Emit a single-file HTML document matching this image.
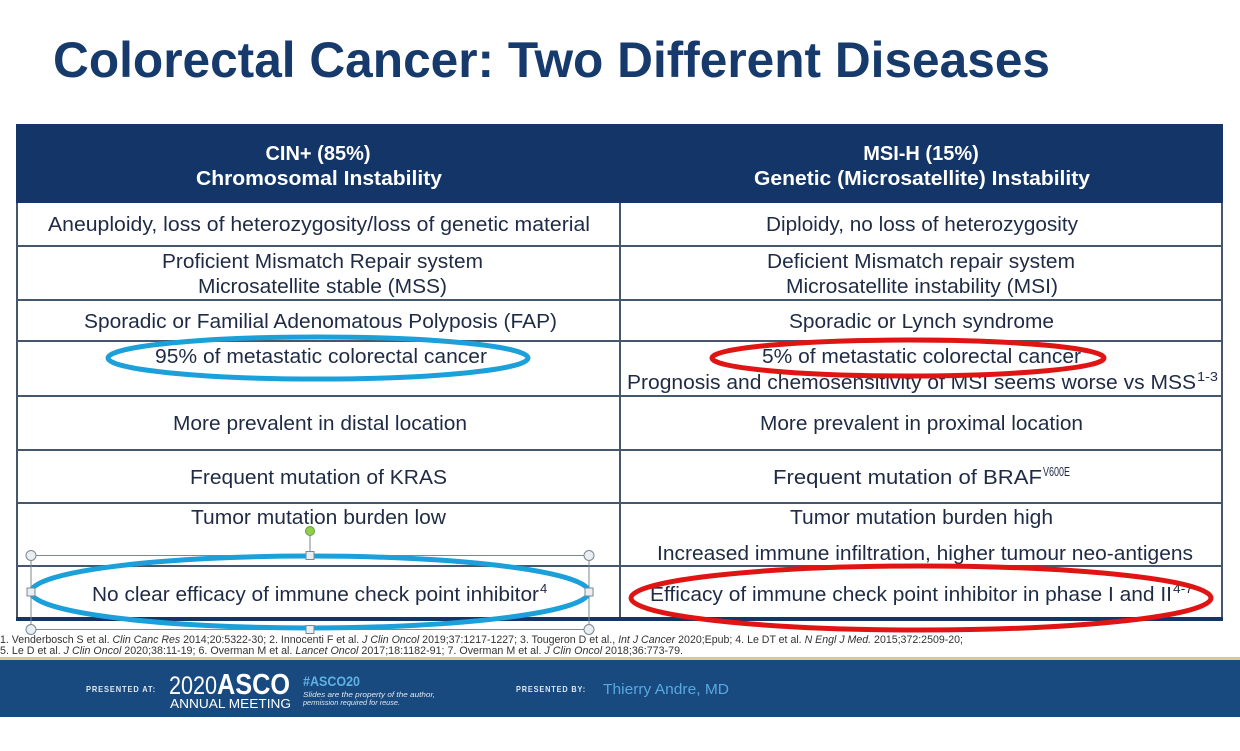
<!DOCTYPE html>
<html>
<head>
<meta charset="utf-8">
<style>
html,body{margin:0;padding:0;background:#fff;}
body{width:1240px;height:751px;overflow:hidden;}
svg{display:block;}
text{font-family:"Liberation Sans",Arial,sans-serif;}
</style>
</head>
<body>
<svg width="1240" height="751" viewBox="0 0 1240 751" xmlns="http://www.w3.org/2000/svg">
  <rect x="0" y="0" width="1240" height="751" fill="#ffffff"/>

  <!-- Title -->
  <text x="53" y="77" font-size="50" font-weight="bold" fill="#163a6b" textLength="997" lengthAdjust="spacingAndGlyphs">Colorectal Cancer: Two Different Diseases</text>

  <!-- Table header -->
  <rect x="16" y="124" width="1207" height="79" fill="#143567"/>
  <text x="318" y="160" font-size="20" font-weight="bold" fill="#ffffff" text-anchor="middle">CIN+ (85%)</text>
  <text x="319" y="185" font-size="20" font-weight="bold" fill="#ffffff" text-anchor="middle" textLength="246" lengthAdjust="spacingAndGlyphs">Chromosomal Instability</text>
  <text x="921" y="160" font-size="20" font-weight="bold" fill="#ffffff" text-anchor="middle">MSI-H (15%)</text>
  <text x="922" y="185" font-size="20" font-weight="bold" fill="#ffffff" text-anchor="middle" textLength="336" lengthAdjust="spacingAndGlyphs">Genetic (Microsatellite) Instability</text>

  <!-- Table grid -->
  <g stroke="#46566d" stroke-width="2" fill="none">
    <line x1="17" y1="203" x2="17" y2="620"/>
    <line x1="1222" y1="203" x2="1222" y2="620"/>
    <line x1="620" y1="203" x2="620" y2="620"/>
    <line x1="16" y1="246" x2="1223" y2="246"/>
    <line x1="16" y1="300" x2="1223" y2="300"/>
    <line x1="16" y1="341" x2="1223" y2="341"/>
    <line x1="16" y1="396" x2="1223" y2="396"/>
    <line x1="16" y1="450" x2="1223" y2="450"/>
    <line x1="16" y1="503" x2="1223" y2="503"/>
    <line x1="16" y1="566" x2="1223" y2="566"/>
  </g>
  <rect x="16" y="617" width="1207" height="4" fill="#143567"/>

  <!-- Body text -->
  <g font-size="20" fill="#1f2b45">
    <text x="48" y="231" textLength="542" lengthAdjust="spacingAndGlyphs">Aneuploidy, loss of  heterozygosity/loss of genetic material</text>
    <text x="766" y="231" textLength="312" lengthAdjust="spacingAndGlyphs">Diploidy, no loss of heterozygosity</text>

    <text x="162" y="268" textLength="321" lengthAdjust="spacingAndGlyphs">Proficient Mismatch Repair system</text>
    <text x="198" y="293" textLength="249" lengthAdjust="spacingAndGlyphs">Microsatellite stable (MSS)</text>
    <text x="767" y="268" textLength="308" lengthAdjust="spacingAndGlyphs">Deficient Mismatch repair system</text>
    <text x="786" y="293" textLength="272" lengthAdjust="spacingAndGlyphs">Microsatellite instability (MSI)</text>

    <text x="84" y="328" textLength="473" lengthAdjust="spacingAndGlyphs">Sporadic or Familial Adenomatous Polyposis (FAP)</text>
    <text x="789" y="328" textLength="265" lengthAdjust="spacingAndGlyphs">Sporadic or Lynch syndrome</text>

    <text x="155" y="363" textLength="332" lengthAdjust="spacingAndGlyphs">95% of metastatic colorectal cancer</text>
    <text x="762" y="363" textLength="319" lengthAdjust="spacingAndGlyphs">5% of metastatic colorectal cancer</text>
    <text x="627" y="389" textLength="569" lengthAdjust="spacingAndGlyphs">Prognosis and chemosensitivity of MSI seems worse vs MSS</text>
    <text x="1197" y="381" font-size="13" textLength="21" lengthAdjust="spacingAndGlyphs">1-3</text>

    <text x="173" y="430" textLength="294" lengthAdjust="spacingAndGlyphs">More prevalent in distal location</text>
    <text x="760" y="430" textLength="323" lengthAdjust="spacingAndGlyphs">More prevalent in proximal location</text>

    <text x="190" y="484" textLength="257" lengthAdjust="spacingAndGlyphs">Frequent mutation of KRAS</text>
    <text x="773" y="484" textLength="269" lengthAdjust="spacingAndGlyphs">Frequent mutation of BRAF</text>
    <text x="1043" y="476" font-size="13" textLength="27" lengthAdjust="spacingAndGlyphs">V600E</text>

    <text x="191" y="524" textLength="255" lengthAdjust="spacingAndGlyphs">Tumor mutation burden low</text>
    <text x="790" y="524" textLength="263" lengthAdjust="spacingAndGlyphs">Tumor mutation burden high</text>
    <text x="657" y="560" textLength="536" lengthAdjust="spacingAndGlyphs">Increased immune infiltration, higher tumour neo-antigens</text>

    <text x="92" y="601" textLength="447" lengthAdjust="spacingAndGlyphs">No clear efficacy of immune check point inhibitor</text>
    <text x="540" y="593" font-size="13">4</text>
    <text x="650" y="601" textLength="522" lengthAdjust="spacingAndGlyphs">Efficacy of immune check point inhibitor in phase I and II</text>
    <text x="1173" y="593" font-size="13" textLength="20" lengthAdjust="spacingAndGlyphs">4-7</text>
  </g>

  <!-- Ellipses -->
  <ellipse cx="318" cy="358" rx="210" ry="21" fill="none" stroke="#1ba0da" stroke-width="5"/>
  <ellipse cx="908" cy="358" rx="196" ry="18" fill="none" stroke="#e11414" stroke-width="5"/>
  <ellipse cx="921" cy="598" rx="290" ry="32" fill="none" stroke="#e11414" stroke-width="5"/>

  <!-- Selection box -->
  <g stroke="#7c8792" stroke-width="1" fill="none">
    <rect x="31" y="555.5" width="558" height="74"/>
    <line x1="310" y1="532" x2="310" y2="555"/>
  </g>
  <ellipse cx="310" cy="592" rx="279" ry="36" fill="none" stroke="#1ba0da" stroke-width="5"/>
  <g stroke="#7c8792" stroke-width="1" fill="#e9eef2">
    <circle cx="31" cy="555.5" r="5"/>
    <circle cx="589" cy="555.5" r="5"/>
    <circle cx="31" cy="629.5" r="5"/>
    <circle cx="589" cy="629.5" r="5"/>
    <rect x="27" y="588" width="8" height="8"/>
    <rect x="585" y="588" width="8" height="8"/>
    <rect x="306" y="551.5" width="8" height="8"/>
    <rect x="306" y="625.5" width="8" height="8"/>
  </g>
  <circle cx="310" cy="531" r="4.5" fill="#8ed04a" stroke="#6a9a40" stroke-width="1"/>

  <!-- Footnotes -->
  <g font-size="11" fill="#333333">
    <text x="0" y="643" textLength="963" lengthAdjust="spacingAndGlyphs">1. Venderbosch S et al. <tspan font-style="italic">Clin Canc Res</tspan> 2014;20:5322-30;  2. Innocenti  F et al. <tspan font-style="italic">J Clin Oncol</tspan> 2019;37:1217-1227;  3. Tougeron D et al., <tspan font-style="italic">Int J Cancer</tspan> 2020;Epub;  4. Le DT et al. <tspan font-style="italic">N Engl J Med.</tspan> 2015;372:2509-20;</text>
    <text x="0" y="654" textLength="683" lengthAdjust="spacingAndGlyphs">5. Le D et al. <tspan font-style="italic">J Clin Oncol</tspan> 2020;38:11-19;  6. Overman M et al. <tspan font-style="italic">Lancet Oncol</tspan> 2017;18:1182-91;  7. Overman M et al. <tspan font-style="italic">J Clin Oncol</tspan> 2018;36:773-79.</text>
  </g>

  <!-- Footer banner -->
  <rect x="0" y="657" width="1240" height="3" fill="#d9c99a"/>
  <rect x="0" y="660" width="1240" height="57" fill="#184a7f"/>
  <text x="86" y="692" font-size="8.5" font-weight="bold" fill="#dfe8f2" letter-spacing="1" textLength="70" lengthAdjust="spacingAndGlyphs">PRESENTED AT:</text>
  <text x="169" y="694" font-size="25" fill="#ffffff" textLength="48" lengthAdjust="spacingAndGlyphs">2020</text>
  <text x="217" y="694" font-size="29" font-weight="bold" fill="#ffffff" textLength="73" lengthAdjust="spacingAndGlyphs">ASCO</text>
  <text x="170" y="708" font-size="13" fill="#ffffff" textLength="121" lengthAdjust="spacingAndGlyphs">ANNUAL MEETING</text>
  <text x="303" y="686" font-size="14" font-weight="bold" fill="#5fb2e4" textLength="57" lengthAdjust="spacingAndGlyphs">#ASCO20</text>
  <text x="303" y="697" font-size="7.5" font-style="italic" fill="#dfe8f2" textLength="132" lengthAdjust="spacingAndGlyphs">Slides are the property of the author,</text>
  <text x="303" y="705" font-size="7.5" font-style="italic" fill="#dfe8f2" textLength="97" lengthAdjust="spacingAndGlyphs">permission required for reuse.</text>
  <text x="516" y="692" font-size="8.5" font-weight="bold" fill="#dfe8f2" letter-spacing="1" textLength="70" lengthAdjust="spacingAndGlyphs">PRESENTED BY:</text>
  <text x="603" y="694" font-size="15" fill="#58a8df" textLength="126" lengthAdjust="spacingAndGlyphs">Thierry Andre, MD</text>
</svg>
</body>
</html>
